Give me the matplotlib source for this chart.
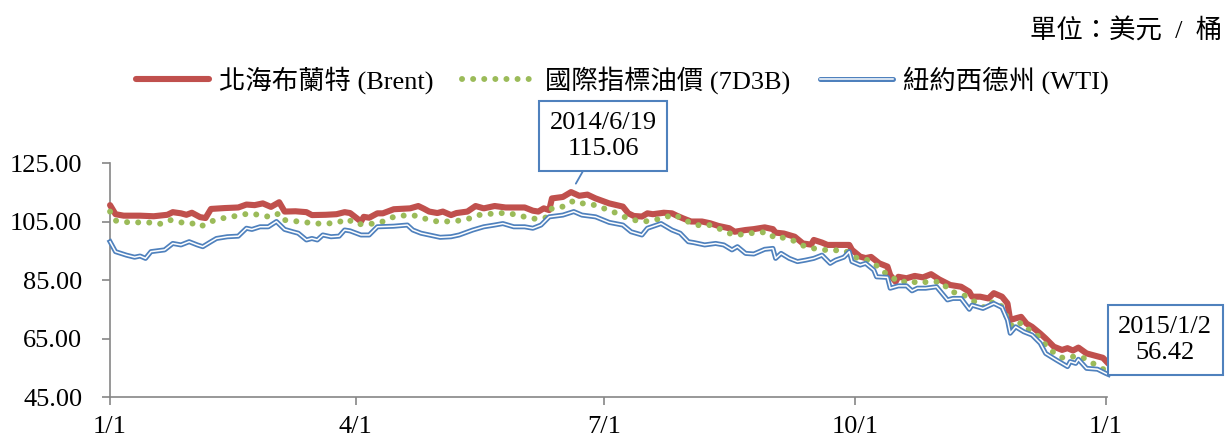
"""Crude oil benchmarks 2014: Brent, 7D3B and WTI daily prices (USD/bbl)."""
import matplotlib
matplotlib.use("Agg")
import matplotlib.pyplot as plt
from matplotlib.lines import Line2D

# days counted from 2014-01-01
BRENT_DAY = [0, 2, 5, 11, 16, 21, 23, 26, 28, 30, 33, 35, 37, 42, 47, 50, 53, 56, 59, 62,
             64, 68, 72, 74, 79, 83, 86, 88, 92, 93, 95, 98, 100, 104, 110, 113, 115, 117,
             120, 122, 125, 127, 131, 134, 137, 141, 145, 152, 155, 157, 159, 161, 162,
             166, 169, 172, 175, 178, 183, 188, 190, 192, 195, 197, 199, 203, 206, 208,
             210, 213, 217, 220, 223, 227, 229, 233, 236, 240, 243, 244, 247, 251, 254,
             257, 258, 261, 263, 268, 271, 272, 275, 277, 279, 282, 285, 286, 288, 289,
             292, 295, 298, 301, 304, 308, 312, 315, 316, 319, 322, 324, 327, 329, 330,
             332, 334, 336, 338, 341, 343, 346, 349, 351, 353, 355, 358, 362, 364, 366]
BRENT = [110.6, 107.5, 107.0, 107.0, 106.8, 107.3, 108.2, 107.8, 107.3, 108.0, 106.5, 106.2,
         109.3, 109.6, 109.8, 110.8, 110.6, 111.2, 110.0, 111.6, 108.4, 108.5, 108.2, 107.2,
         107.3, 107.5, 108.2, 107.9, 105.0, 106.6, 106.3, 107.8, 107.8, 109.2, 109.5, 110.3,
         109.4, 108.4, 107.9, 108.4, 107.2, 107.9, 108.4, 110.3, 109.5, 110.3, 109.8, 109.8,
         108.7, 108.4, 109.5, 108.9, 112.9, 113.4, 115.06, 113.8, 114.2, 112.9, 111.2, 110.1,
         107.8, 106.9, 106.7, 107.8, 107.5, 108.0, 107.8, 106.9, 106.1, 105.0, 105.0, 104.4,
         103.5, 102.7, 101.5, 102.1, 102.4, 103.0, 102.4, 101.2, 100.9, 99.8, 97.5, 97.1,
         98.7, 97.8, 97.0, 97.0, 97.0, 95.3, 93.0, 92.5, 92.9, 90.7, 89.6, 86.7, 84.4, 86.1,
         85.6, 86.4, 85.9, 87.0, 85.2, 83.3, 82.7, 81.0, 79.3, 79.3, 78.7, 80.5, 79.3, 77.0,
         71.3, 71.9, 72.4, 70.1, 69.0, 66.7, 65.0, 62.2, 61.1, 61.7, 60.9, 61.9, 59.9, 58.9,
         58.4, 56.42]

D7D3B_DAY = [0, 2, 7, 10, 14, 18, 22, 26, 30, 33, 37, 40, 43, 48, 51, 55, 59, 62, 64, 68,
             72, 75, 79, 83, 87, 90, 93, 97, 100, 104, 109, 113, 116, 120, 123, 127, 131,
             135, 139, 144, 148, 152, 156, 160, 162, 166, 170, 174, 178, 181, 185, 189,
             192, 196, 199, 203, 206, 210, 213, 217, 220, 224, 226, 229, 233, 237, 241,
             244, 246, 250, 254, 257, 260, 264, 268, 270, 274, 278, 282, 285, 290, 293,
             296, 299, 302, 305, 308, 312, 315, 318, 321, 324, 327, 329, 331, 334, 337,
             339, 341, 344, 348, 350, 353, 356, 360, 363, 366]
D7D3B = [108.4, 105.3, 104.7, 104.7, 104.7, 104.1, 105.5, 104.7, 104.4, 103.2, 105.0, 105.9,
         106.4, 107.2, 107.8, 107.2, 106.5, 107.8, 105.5, 105.1, 104.7, 104.3, 104.3, 104.5,
         105.9, 104.1, 104.1, 104.3, 105.0, 106.6, 107.2, 106.9, 105.8, 105.0, 105.0, 105.2,
         105.8, 107.2, 107.6, 107.9, 107.5, 106.6, 105.9, 106.4, 109.5, 110.1, 112.1, 111.0,
         110.6, 109.5, 108.1, 106.4, 105.5, 105.0, 105.5, 106.1, 107.4, 106.1, 104.3, 103.5,
         103.8, 102.3, 101.3, 100.4, 100.7, 101.3, 101.3, 99.2, 99.6, 98.7, 96.8, 95.9, 95.6,
         95.0, 95.3, 94.7, 92.4, 91.8, 89.3, 86.7, 84.1, 85.0, 83.9, 84.3, 84.4, 84.3, 81.0,
         80.4, 78.7, 77.0, 75.3, 77.8, 75.9, 71.9, 68.7, 70.4, 67.9, 66.8, 65.1, 61.6, 58.8,
         58.2, 58.8, 58.8, 56.7, 55.0, 53.7]

WTI_DAY = [0, 2, 6, 9, 11, 13, 15, 20, 23, 26, 29, 32, 34, 37, 39, 43, 47, 50, 52, 55, 58,
           61, 64, 67, 69, 72, 74, 76, 78, 81, 84, 86, 88, 92, 95, 98, 104, 109, 111, 114,
           117, 121, 125, 128, 133, 137, 141, 144, 148, 152, 155, 158, 161, 166, 170, 173,
           178, 183, 188, 191, 195, 197, 202, 206, 209, 212, 214, 218, 222, 225, 228, 230,
           233, 236, 240, 243, 244, 246, 249, 252, 255, 258, 261, 264, 266, 269, 271, 272,
           275, 277, 280, 281, 285, 286, 289, 292, 294, 296, 299, 303, 307, 309, 312, 315,
           316, 320, 324, 327, 329, 330, 332, 335, 338, 341, 343, 347, 351, 352, 354, 355,
           358, 362, 365, 366]
WTI = [98.1, 94.7, 93.5, 92.8, 93.2, 92.4, 94.7, 95.3, 97.5, 97.0, 98.1, 97.0, 96.4, 98.1,
       99.2, 99.8, 100.0, 102.7, 102.3, 103.2, 103.2, 105.0, 102.3, 101.5, 101.0, 98.7, 99.2,
       98.7, 100.4, 99.8, 100.0, 102.1, 101.8, 100.4, 100.4, 103.2, 103.4, 103.8, 102.1,
       101.0, 100.4, 99.6, 99.8, 100.4, 102.1, 103.2, 103.8, 104.3, 103.2, 103.2, 102.7,
       103.8, 106.6, 107.2, 108.4, 107.2, 106.6, 104.7, 103.8, 101.5, 100.4, 102.7, 104.3,
       102.1, 101.0, 98.1, 97.8, 97.0, 97.5, 97.0, 95.3, 96.4, 94.1, 93.9, 95.5, 95.8, 92.4,
       94.1, 92.4, 91.3, 91.8, 92.4, 93.5, 90.7, 91.8, 92.8, 94.7, 91.3, 90.1, 90.7, 88.4,
       86.1, 85.9, 82.2, 83.0, 83.0, 81.3, 82.2, 82.2, 82.7, 78.2, 78.7, 78.7, 75.0, 76.4,
       75.3, 77.0, 75.6, 71.3, 66.8, 69.0, 67.3, 66.2, 63.4, 59.9, 57.6, 55.4, 57.1, 56.5,
       57.9, 54.8, 54.5, 53.1, 52.7]

XTICK_DAYS = [0, 90, 181, 273, 365]
XTICK_LABELS = ["1/1", "4/1", "7/1", "10/1", "1/1"]
YTICKS = [45, 65, 85, 105, 125]

PEAK = ("2014/6/19", 169, 115.06)
LAST = ("2015/1/2", 366, 56.42)

RED = "#C0504D"
GREEN = "#9BBB59"
BLUE = "#4F81BD"
GREY = "#868686"
FONT = ["Liberation Serif", "Noto Sans CJK TC"]

plt.rcParams.update({
    "font.family": FONT,
    "font.size": 19,
    "axes.unicode_minus": False,
})

fig = plt.figure(figsize=(12.31, 4.40), dpi=100)
ax = fig.add_axes([0.0894, 0.0977, 0.8099, 0.5318])

ax.plot(BRENT_DAY, BRENT, color=RED, lw=4.4, solid_joinstyle="round",
        solid_capstyle="round", clip_on=False, zorder=3)
ax.plot(D7D3B_DAY, D7D3B, color=GREEN, lw=4.3, linestyle=(0, (0.01, 1.85)),
        dash_capstyle="round", clip_on=False, zorder=4)
ax.plot(WTI_DAY, WTI, color=BLUE, lw=3.6, solid_joinstyle="round",
        clip_on=False, zorder=5)
ax.plot(WTI_DAY, WTI, color="white", lw=1.1, solid_joinstyle="round",
        clip_on=False, zorder=6)

ax.set_xlim(0, 365.5)
ax.set_ylim(45, 125)
ax.set_xticks(XTICK_DAYS)
ax.set_xticklabels(XTICK_LABELS)
ax.set_yticks(YTICKS)
ax.set_yticklabels([f"{v:.2f}" for v in YTICKS])

for side in ("top", "right"):
    ax.spines[side].set_visible(False)
for side in ("left", "bottom"):
    ax.spines[side].set_color(GREY)
    ax.spines[side].set_linewidth(1.2)
ax.tick_params(axis="both", direction="out", length=6, width=1.2, color=GREY)
ax.tick_params(axis="y", pad=14)
ax.tick_params(axis="x", pad=8)

# callouts
box = dict(boxstyle="square,pad=0.4", fc="white", ec=BLUE, lw=1.5)
ax.annotate(f"{PEAK[0]}\n{PEAK[2]:.2f}", xy=(PEAK[1], PEAK[2]),
            xytext=(23, 40.5), textcoords="offset points", ha="center", va="center",
            linespacing=1.25, bbox=box, annotation_clip=False, zorder=10,
            arrowprops=dict(arrowstyle="-", color=BLUE, lw=1.3, shrinkA=0, shrinkB=7))
ax.annotate(f"{LAST[0]}\n{LAST[2]:.2f}", xy=(LAST[1], LAST[2]),
            xytext=(41, 17), textcoords="offset points", ha="center", va="center",
            linespacing=1.25, bbox=box, annotation_clip=False, zorder=10)

# legend
h_brent = Line2D([], [], color=RED, lw=4.4, solid_capstyle="round")
h_7d3b = Line2D([], [], color=GREEN, lw=4.3, linestyle=(0, (0.01, 1.85)),
                dash_capstyle="round")
h_wti = (Line2D([], [], color=BLUE, lw=3.6, solid_capstyle="round"),
         Line2D([], [], color="white", lw=1.1))
fig.legend([h_brent, h_7d3b, h_wti],
           ["北海布蘭特 (Brent)", "國際指標油價 (7D3B)", "紐約西德州 (WTI)"],
           loc="center", bbox_to_anchor=(622 / 1231, 1 - 80 / 440), ncol=3,
           frameon=False, handlelength=2.8, handletextpad=0.35, columnspacing=1.1,
           borderaxespad=0)

fig.text(1222 / 1231, 1 - 31 / 440, "單位：美元  /  桶", ha="right", va="center")

fig.savefig("out.png", dpi=100, facecolor="white")
